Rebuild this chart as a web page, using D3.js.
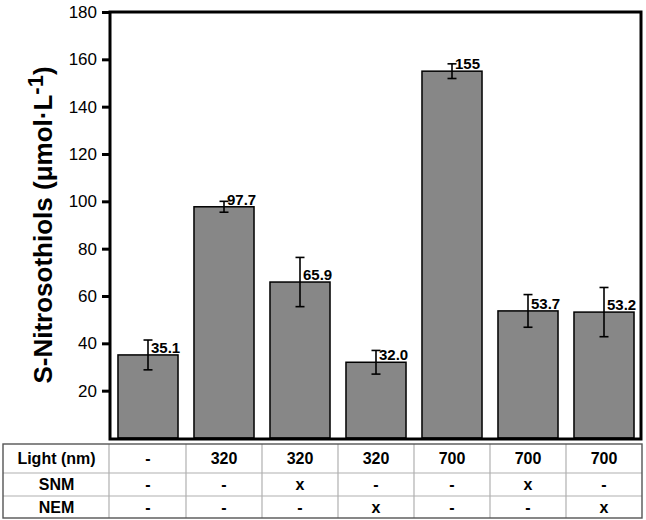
<!DOCTYPE html>
<html>
<head>
<meta charset="utf-8">
<script src="https://cdn.jsdelivr.net/npm/d3@7"></script>
<style>
  body { margin: 0; background: #fff; }
  text { font-family: "Liberation Sans", Arial, sans-serif; }
</style>
</head>
<body>
<script>
// chart data
var groups = ["g1", "g2", "g3", "g4", "g5", "g6", "g7"];
var values = [35.1, 97.7, 65.9, 32.0, 155, 53.7, 53.2];
var errors = [6.3, 2.3, 10.4, 5.0, 3.1, 6.9, 10.4];
var valueLabels = ["35.1", "97.7", "65.9", "32.0", "155", "53.7", "53.2"];
var yTicks = [20, 40, 60, 80, 100, 120, 140, 160, 180];

// table below the chart
var rowNames = ["Light (nm)", "SNM", "NEM"];
var lightRow = ["-", "320", "320", "320", "700", "700", "700"];
var snmRow = ["-", "-", "x", "-", "-", "x", "-"];
var nemRow = ["-", "-", "-", "x", "-", "-", "x"];

var w = 646, h = 520;
var pLeft = 110, pRight = 642, pTop = 12, pBottom = 438;

var svg = d3.select("body").append("svg")
    .attr("width", w)
    .attr("height", h);

var x = d3.scaleBand()
    .domain(groups)
    .range([pLeft, pRight])
    .paddingInner(0.21)
    .paddingOuter(0.105);

var y = d3.scaleLinear()
    .domain([0, 180])
    .range([pBottom, pTop]);

// bars
svg.selectAll("rect.bar")
   .data(values)
   .enter()
   .append("rect")
   .attr("class", "bar")
   .attr("x", (d, i) => x(groups[i]))
   .attr("y", d => y(d))
   .attr("width", x.bandwidth())
   .attr("height", d => y(0) - y(d))
   .attr("fill", "#878787")
   .attr("stroke", "#000")
   .attr("stroke-width", 1.5);

// error bars
var cx = i => x(groups[i]) + x.bandwidth() / 2;
var eb = svg.append("g").attr("stroke", "#000").attr("stroke-width", 1.6);
values.forEach(function(v, i) {
    var c = cx(i);
    eb.append("line").attr("x1", c).attr("x2", c)
      .attr("y1", y(v + errors[i])).attr("y2", y(v - errors[i]));
    eb.append("line").attr("x1", c - 4.5).attr("x2", c + 4.5)
      .attr("y1", y(v + errors[i])).attr("y2", y(v + errors[i]));
    eb.append("line").attr("x1", c - 4.5).attr("x2", c + 4.5)
      .attr("y1", y(v - errors[i])).attr("y2", y(v - errors[i]));
});

// value labels
svg.selectAll("text.val")
   .data(values)
   .enter()
   .append("text")
   .attr("class", "val")
   .attr("x", (d, i) => cx(i) + 3)
   .attr("y", d => y(d) - 2)
   .attr("font-size", "15px")
   .attr("font-weight", "bold")
   .text((d, i) => valueLabels[i]);

// frame
svg.append("rect")
   .attr("x", pLeft).attr("y", pTop)
   .attr("width", pRight - 1 - pLeft).attr("height", pBottom + 1 - pTop)
   .attr("fill", "none")
   .attr("stroke", "#000")
   .attr("stroke-width", 3);

// y axis
var yAxis = d3.axisLeft(y).tickValues(yTicks).tickSize(8).tickPadding(5);
var ga = svg.append("g").attr("transform", "translate(" + pLeft + ",0)").call(yAxis);
ga.select(".domain").remove();
ga.selectAll(".tick line").attr("stroke", "#000").attr("stroke-width", 3);
ga.selectAll(".tick text")
  .attr("font-size", "17px")
  .attr("fill", "#000")
  .attr("font-family", "'Liberation Sans', Arial, sans-serif");

// y title
var title = svg.append("text")
   .attr("transform", "translate(52," + ((pTop + pBottom) / 2) + ") rotate(-90)")
   .attr("text-anchor", "middle")
   .attr("font-size", "26px")
   .attr("font-weight", "bold");
title.append("tspan").text("S-Nitrosothiols (\u03bcmol\u00b7L");
title.append("tspan").attr("dy", "-9").attr("font-size", "22px").text("-1");
title.append("tspan").attr("dy", "9").text(")");

// table
var rowTops = [444, 473, 496, 518];
var tLeft = 3;
var step = x.step();
var colEdge = i => x(groups[i]) - (step - x.bandwidth()) / 2;
var tRight = colEdge(6) + step;
var tbl = svg.append("g");
var rows = [lightRow, snmRow, nemRow];

// inner lines
for (var r = 1; r < 3; r++) {
    tbl.append("line").attr("x1", tLeft).attr("x2", tRight)
       .attr("y1", rowTops[r]).attr("y2", rowTops[r])
       .attr("stroke", "#b0b0b0").attr("stroke-width", 1.2);
}
tbl.append("line").attr("x1", pLeft - 1).attr("x2", pLeft - 1)
   .attr("y1", rowTops[0]).attr("y2", rowTops[3])
   .attr("stroke", "#b0b0b0").attr("stroke-width", 1.2);
for (var c = 1; c < groups.length; c++) {
    tbl.append("line").attr("x1", colEdge(c)).attr("x2", colEdge(c))
       .attr("y1", rowTops[0]).attr("y2", rowTops[3])
       .attr("stroke", "#b0b0b0").attr("stroke-width", 1.2);
}
tbl.append("rect")
   .attr("x", tLeft).attr("y", rowTops[0])
   .attr("width", tRight - tLeft).attr("height", rowTops[3] - rowTops[0])
   .attr("fill", "none").attr("stroke", "#555").attr("stroke-width", 1.4);

rowNames.forEach(function(name, r) {
    var ym = (rowTops[r] + rowTops[r + 1]) / 2;
    tbl.append("text")
       .attr("x", (tLeft + pLeft) / 2).attr("y", ym).attr("dy", "0.36em")
       .attr("text-anchor", "middle")
       .attr("font-size", "16px").attr("font-weight", "bold")
       .text(name);
    rows[r].forEach(function(s, i) {
        tbl.append("text")
           .attr("x", cx(i)).attr("y", ym).attr("dy", "0.36em")
           .attr("text-anchor", "middle")
           .attr("font-size", "16px").attr("font-weight", "bold")
           .text(s);
    });
});
</script>
</body>
</html>
